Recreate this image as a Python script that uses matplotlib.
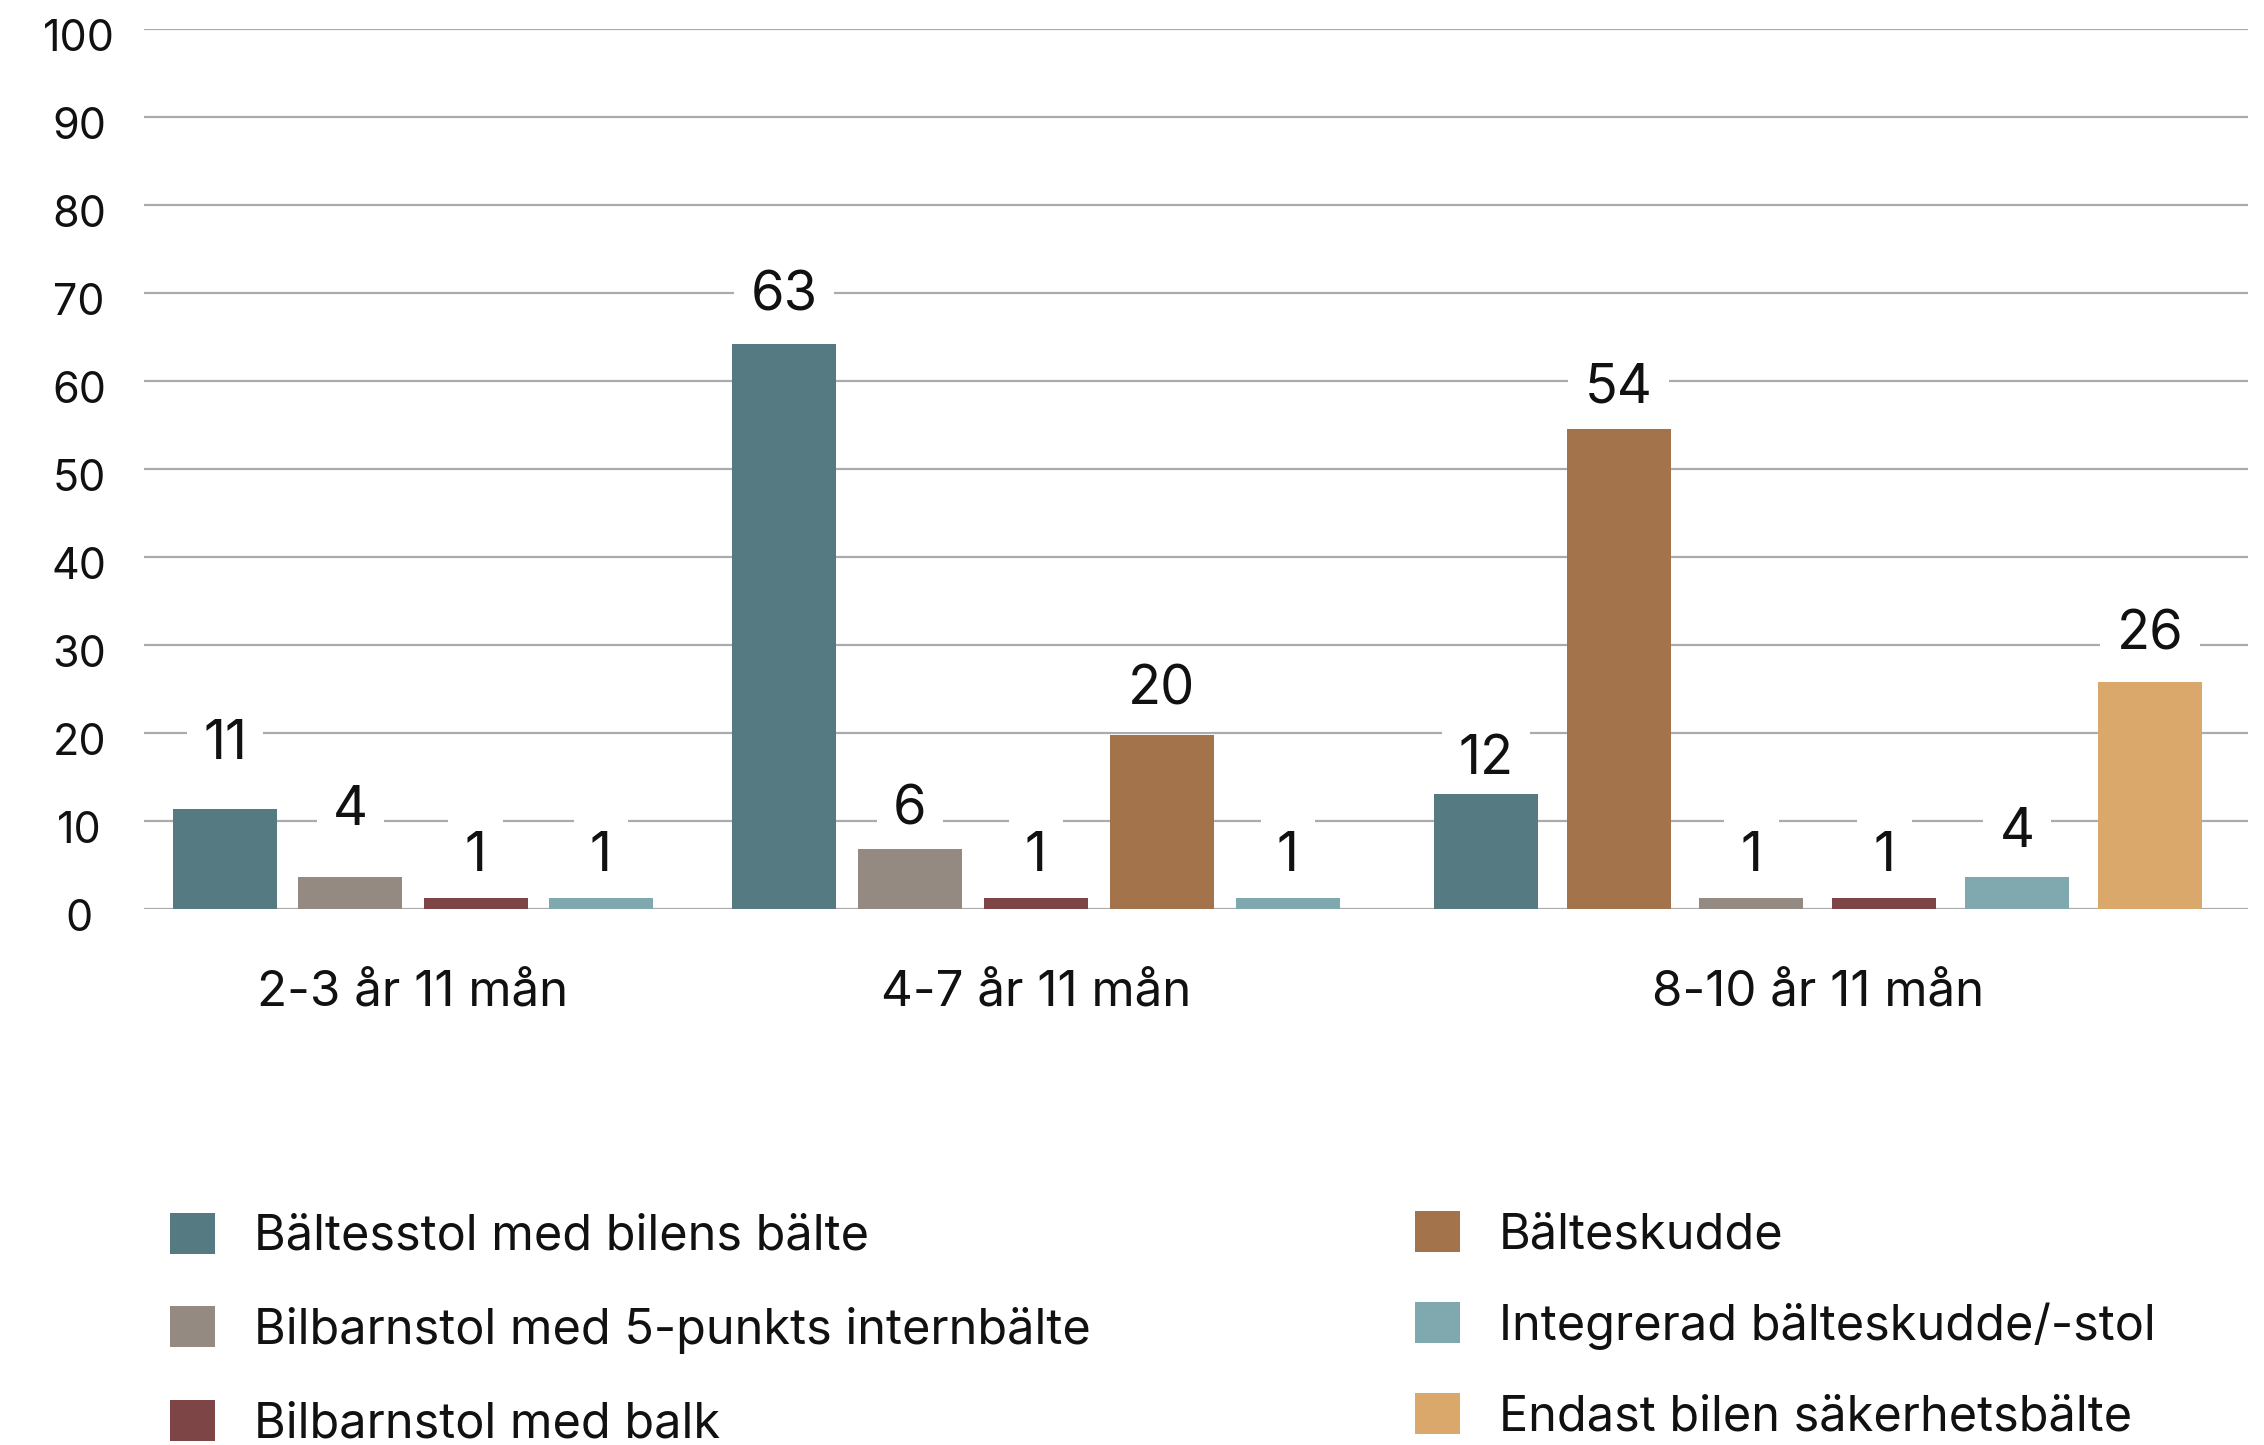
import matplotlib
matplotlib.use("Agg")
import matplotlib.pyplot as plt
from matplotlib.patches import Patch
from matplotlib.transforms import ScaledTranslation

plt.rcParams['font.family'] = ['Inter', 'DejaVu Sans']

# ---------------- data ----------------
series_names = [
    "Bältesstol med bilens bälte",
    "Bilbarnstol med 5-punkts internbälte",
    "Bilbarnstol med balk",
    "Bälteskudde",
    "Integrerad bälteskudde/-stol",
    "Endast bilen säkerhetsbälte",
]
series_colors = ["#557A82", "#948A82", "#7E4546", "#A3734C", "#80A9AF", "#D9A86A"]

groups = ["2-3 år 11 mån", "4-7 år 11 mån", "8-10 år 11 mån"]

g1_series = [0, 1, 2, 4]
g1_values = [11.4, 3.7, 1.3, 1.3]
g1_labels = ["11", "4", "1", "1"]

g2_series = [0, 1, 2, 3, 4]
g2_values = [64.2, 6.9, 1.3, 19.8, 1.3]
g2_labels = ["63", "6", "1", "20", "1"]

g3_series = [0, 3, 1, 2, 4, 5]
g3_values = [13.1, 54.6, 1.3, 1.3, 3.7, 25.8]
g3_labels = ["12", "54", "1", "1", "4", "26"]

yticks = [0, 10, 20, 30, 40, 50, 60, 70, 80, 90, 100]

# ---------------- layout ----------------
W, H, DPI = 2264, 1445, 100
S = W / 1568  # reference display -> output pixels
fig = plt.figure(figsize=(W / DPI, H / DPI), dpi=DPI)
ax = fig.add_axes([100 / 1568, 1 - 630 / 1001, 1457 / 1568, (630 - 20) / 1001])

group_start = [56, 443, 929]
group_pitch = [86.7, 87.25, 92]
bar_width = 72
# distance (reference display px) from bar top to label centre
label_lift = [[45, 46, 29, 29],
              [33, 27, 29, 31, 29],
              [24, 28, 29, 29, 31, 33]]

all_groups = [(g1_series, g1_values, g1_labels),
              (g2_series, g2_values, g2_labels),
              (g3_series, g3_values, g3_labels)]

centers = []
for gi, (ser, vals, labs) in enumerate(all_groups):
    xs = [group_start[gi] + i * group_pitch[gi] for i in range(len(vals))]
    cols = [series_colors[s] for s in ser]
    bars = ax.bar(xs, vals, width=bar_width, color=cols, zorder=3)
    for bi, (b, lab) in enumerate(zip(bars, labs)):
        lift_pt = label_lift[gi][bi] * S * 72 / DPI
        ax.annotate(lab, (b.get_x() + b.get_width() / 2, b.get_height()),
                    xytext=(0, lift_pt), textcoords="offset points",
                    ha="center", va="center", fontsize=39, color="#111111",
                    bbox=dict(boxstyle="square,pad=0.3", fc="white", ec="none"),
                    zorder=2.5)
    centers.append((xs[0] + xs[-1]) / 2)

ax.set_xlim(0, 1457)
ax.set_ylim(0, 100)
ax.set_yticks(yticks)
ax.set_yticklabels([str(t) for t in yticks], fontsize=31, color="#111111", ha="center")
ax.tick_params(axis="y", length=0, pad=47)
shift = ScaledTranslation(0, -4 * S / DPI, fig.dpi_scale_trans)
for lab in ax.get_yticklabels():
    lab.set_transform(lab.get_transform() + shift)
ax.set_xticks(centers)
ax.set_xticklabels(groups, fontsize=35.5, color="#111111")
ax.tick_params(axis="x", length=0, pad=43)
ax.grid(axis="y", color="#ABABAB", linewidth=1.6, zorder=0)
ax.set_axisbelow(True)
for sp in ax.spines.values():
    sp.set_visible(False)

# ---------------- legends ----------------
left_idx = [0, 1, 2]
right_idx = [3, 4, 5]
common = dict(frameon=False, fontsize=35, handlelength=0.92, handleheight=0.92,
              handletextpad=0.8, borderpad=0, borderaxespad=0,
              loc="upper left", labelcolor="#111111")
h_left = [Patch(facecolor=series_colors[i], edgecolor="none") for i in left_idx]
h_right = [Patch(facecolor=series_colors[i], edgecolor="none") for i in right_idx]
leg1 = fig.legend(h_left, [series_names[i] for i in left_idx], labelspacing=0.96,
                  bbox_to_anchor=(118 / 1568, 1 - 840 / 1001), **common)
leg2 = fig.legend(h_right, [series_names[i] for i in right_idx], labelspacing=0.90,
                  bbox_to_anchor=(980 / 1568, 1 - 839 / 1001), **common)

fig.savefig("out.png", dpi=DPI, facecolor="white")
